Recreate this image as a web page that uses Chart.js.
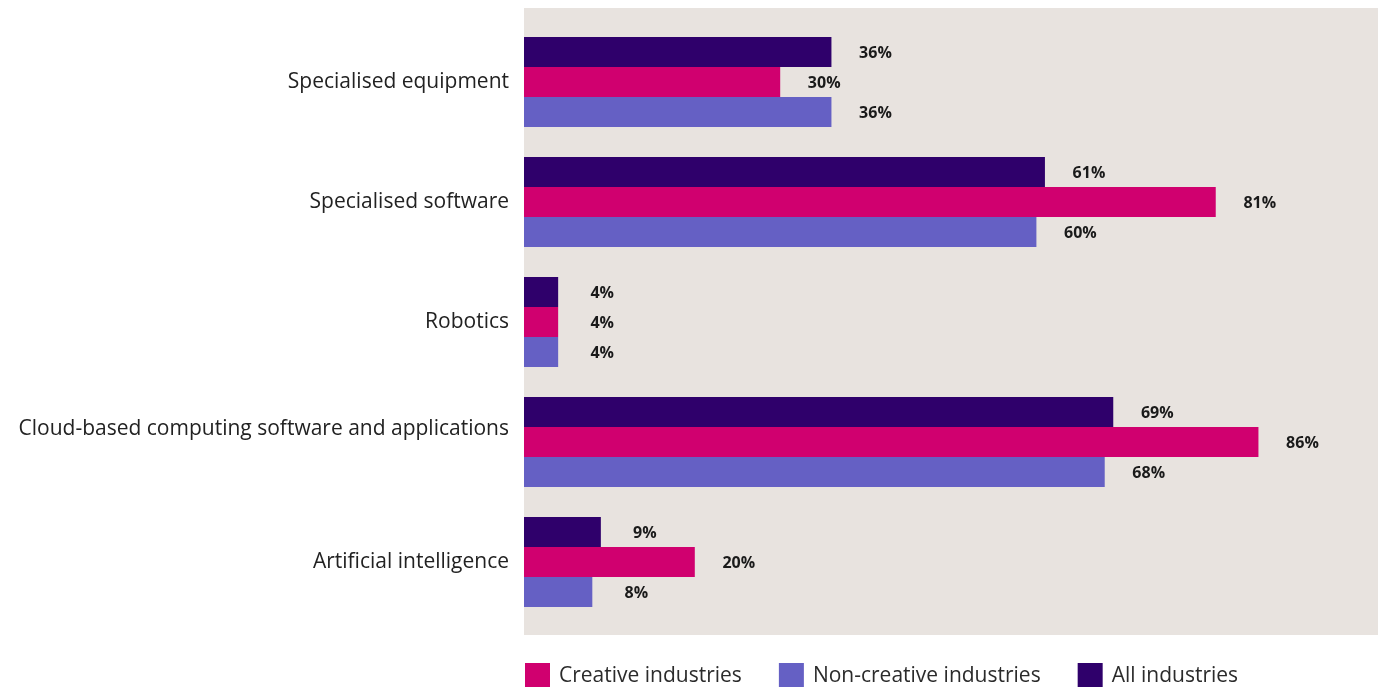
<!DOCTYPE html>
<html>
<head>
<meta charset="utf-8">
<script src="https://cdn.jsdelivr.net/npm/chart.js@4.4.1/dist/chart.umd.min.js"></script>
<style>
   html, body { margin: 0; padding: 0; background: #ffffff; }
   #wrap { width: 1382px; height: 687px; }
</style>
</head>
<body>
<div id="wrap"><canvas id="techChart" width="1382" height="687"></canvas></div>
<script>
//1) DATA//
const categories = [
   'Specialised equipment',
   'Specialised software',
   'Robotics',
   ['Cloud-based computing software and applications', ''],
   'Artificial intelligence'
]
const allIndustries = [36, 61, 4, 69, 9]
const creativeIndustries = [30, 81, 4, 86, 20]
const nonCreativeIndustries = [36, 60, 4, 68, 8]

// legend shows creative first, then non-creative, then all
const legendOrder = [1, 2, 0]

const FONT = '"Open Sans", Lato, sans-serif'

//2) PLUGINS//
// beige panel behind the bars, a bit taller than the chart area
const panelBg = {
   id: 'panelBg',
   beforeDraw(chart) {
      const { ctx, chartArea } = chart
      ctx.save()
      ctx.fillStyle = '#e8e3df'
      ctx.fillRect(chartArea.left, chartArea.top - 14, chartArea.right - chartArea.left, chartArea.bottom - chartArea.top + 27)
      ctx.restore()
   }
}

// percentage text to the right of every bar
const barValues = {
   id: 'barValues',
   afterDatasetsDraw(chart) {
      const { ctx } = chart
      ctx.save()
      ctx.font = `700 16px ${FONT}`
      ctx.fillStyle = '#1a1a1a'
      ctx.textAlign = 'center'
      ctx.textBaseline = 'middle'
      chart.data.datasets.forEach((ds, i) => {
         chart.getDatasetMeta(i).data.forEach((bar, j) => {
            ctx.fillText(ds.data[j] + '%', bar.x + 44, bar.y + 1)
         })
      })
      ctx.restore()
   }
}

// legend row under the panel, starting at the chart area's left edge
const bottomLegend = {
   id: 'bottomLegend',
   afterDraw(chart) {
      const { ctx, chartArea } = chart
      let x = chartArea.left + 1
      const y = 676
      ctx.save()
      ctx.font = `400 21px ${FONT}`
      ctx.textBaseline = 'middle'
      legendOrder.forEach(i => {
         const ds = chart.data.datasets[i]
         ctx.fillStyle = ds.backgroundColor
         ctx.fillRect(x, y - 13, 25, 25)
         x += 34
         ctx.fillStyle = '#2b2b2b'
         ctx.fillText(ds.label, x, y)
         x += ctx.measureText(ds.label).width + 37
      })
      ctx.restore()
   }
}

//3) CHART//
const ctx = document.getElementById('techChart').getContext('2d')
const techChart = new Chart(ctx, {
   type: 'bar',
   data: {
      labels: categories,
      datasets: [
         { label: 'All industries', data: allIndustries, backgroundColor: '#2f006b' },
         { label: 'Creative industries', data: creativeIndustries, backgroundColor: '#d0006f' },
         { label: 'Non-creative industries', data: nonCreativeIndustries, backgroundColor: '#6560c4' }
      ]
   },
   options: {
      indexAxis: 'y',
      responsive: false,
      animation: false,
      layout: {
         padding: { top: 22, right: 4, bottom: 65, left: 0 }
      },
      datasets: {
         bar: {
            categoryPercentage: 0.75,
            barPercentage: 1.0,
            borderWidth: 0
         }
      },
      scales: {
         x: {
            display: false,
            min: 0,
            max: 100
         },
         y: {
            grid: { display: false },
            border: { display: false },
            afterFit(scale) {
               scale.width = 524
            },
            ticks: {
               padding: 7,
               color: '#222222',
               font: { family: FONT, size: 21 }
            }
         }
      },
      plugins: {
         legend: { display: false },
         tooltip: { enabled: false }
      }
   },
   plugins: [panelBg, barValues, bottomLegend]
})
</script>
</body>
</html>
